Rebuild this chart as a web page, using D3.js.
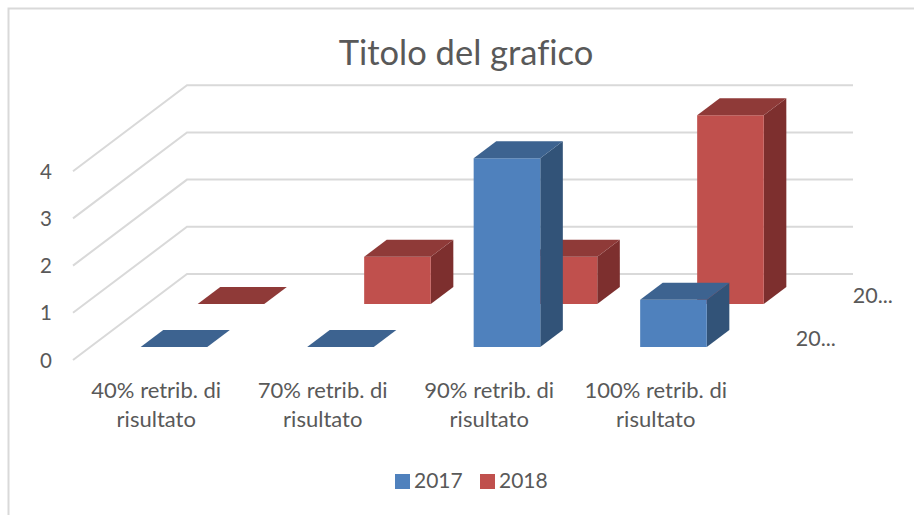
<!DOCTYPE html>
<html><head><meta charset="utf-8">
<script src="https://cdn.jsdelivr.net/npm/d3@7"></script>
<style>html,body{margin:0;padding:0;background:#fff}svg{display:block}text{font-family:Lato,"Open Sans",sans-serif;fill:#595959;font-variant-ligatures:none}</style>
</head><body><svg id="c" width="914" height="515"></svg>
<script>
const title = "Titolo del grafico";
const categories = ["40% retrib. di risultato","70% retrib. di risultato","90% retrib. di risultato","100% retrib. di risultato"];
const categoryLines = [["40% retrib. di","risultato"],["70% retrib. di","risultato"],["90% retrib. di","risultato"],["100% retrib. di","risultato"]];
const seriesNames = ["2017","2018"];
const values2017 = [0,0,4,1];
const values2018 = [0,1,1,4];
const valueTicks = [0,1,2,3,4];
const depthLabels = ["20...","20..."];
const seriesColors = [
  {front:"#4F81BD",top:"#3D6390",side:"#325378"},
  {front:"#C0504D",top:"#8F3A38",side:"#7D2F2E"}
];
const GRID="#D9D9D9";

const svg=d3.select("#c");
const x=d3.scaleBand().domain(categories).range([73.5,739.5]).paddingInner(0.6).paddingOuter(0.3);
const y=d3.scaleLinear().domain([0,4]).range([360,171.2]);
// oblique depth axis: depth 0 = front of floor, depth 1 = back wall
const dx=d3.scaleLinear().domain([0,1]).range([0,114]);
const dy=d3.scaleLinear().domain([0,1]).range([0,-86]);
const seriesDepth=d3.scaleOrdinal().domain(seriesNames).range([0.151,0.651]);
const barDepth=0.198;
const gridLeft=73, gridRight=739;
const P=(px,v,z)=>[px+dx(z),y(v)+dy(z)];

// frame
svg.append("path").attr("d","M8.5,515V8.5H914").attr("fill","none").attr("stroke",GRID).attr("stroke-width",2);

// gridlines
svg.append("g").selectAll("path").data(valueTicks).join("path")
  .attr("d",v=>d3.line()([P(gridLeft,v,0),P(gridLeft,v,1),P(gridRight,v,1)]))
  .attr("fill","none").attr("stroke",GRID).attr("stroke-width",2);

// value labels
svg.append("g").selectAll("text").data(valueTicks).join("text")
  .attr("x",46).attr("y",v=>y(v)+7.5).attr("text-anchor","middle").attr("font-size",20.5).text(d=>d);

// bars, back series first
const series=[{name:"2018",vals:values2018,c:seriesColors[1]},{name:"2017",vals:values2017,c:seriesColors[0]}];
const poly=pts=>"M"+pts.map(p=>p.join(",")).join("L")+"Z";
series.forEach(s=>{
  const z0=seriesDepth(s.name), z1=z0+barDepth, w=x.bandwidth();
  const g=svg.append("g");
  categories.forEach((cat,i)=>{
    const l=x(cat), r=l+w, v=s.vals[i];
    if(v>0){
      g.append("path").attr("d",poly([P(r,0,z0),P(r,v,z0),P(r,v,z1),P(r,0,z1)])).attr("fill",s.c.side);
      g.append("path").attr("d",poly([P(l,0,z0),P(r,0,z0),P(r,v,z0),P(l,v,z0)])).attr("fill",s.c.front);
    }
    g.append("path").attr("d",poly([P(l,v,z0),P(r,v,z0),P(r,v,z1),P(l,v,z1)])).attr("fill",s.c.top);
  });
});

// category labels
const catG=svg.append("g");
categories.forEach((cat,i)=>{
  const t=catG.append("text").attr("text-anchor","middle").attr("font-size",22);
  categoryLines[i].forEach((ln,j)=>t.append("tspan").attr("x",x(cat)+x.bandwidth()/2-0.5).attr("y",398+29*j).text(ln));
});

// depth axis labels
svg.append("g").selectAll("text").data(seriesNames).join("text")
  .attr("x",n=>x(categories[3])+x.bandwidth()+dx(seriesDepth(n))+89)
  .attr("y",n=>y(0)+dy(seriesDepth(n))-1)
  .attr("font-size",21.5).text((n,i)=>depthLabels[i]);

// title
svg.append("text").attr("x",466).attr("y",65).attr("text-anchor","middle").attr("font-size",34.5).text(title);

// legend
const lg=svg.append("g");
const lx=[395,480];
seriesNames.forEach((n,i)=>{
  lg.append("rect").attr("x",lx[i]).attr("y",474).attr("width",15).attr("height",15).attr("fill",seriesColors[i].front);
  lg.append("text").attr("x",lx[i]+19).attr("y",488).attr("font-size",21).text(n);
});
</script></body></html>
